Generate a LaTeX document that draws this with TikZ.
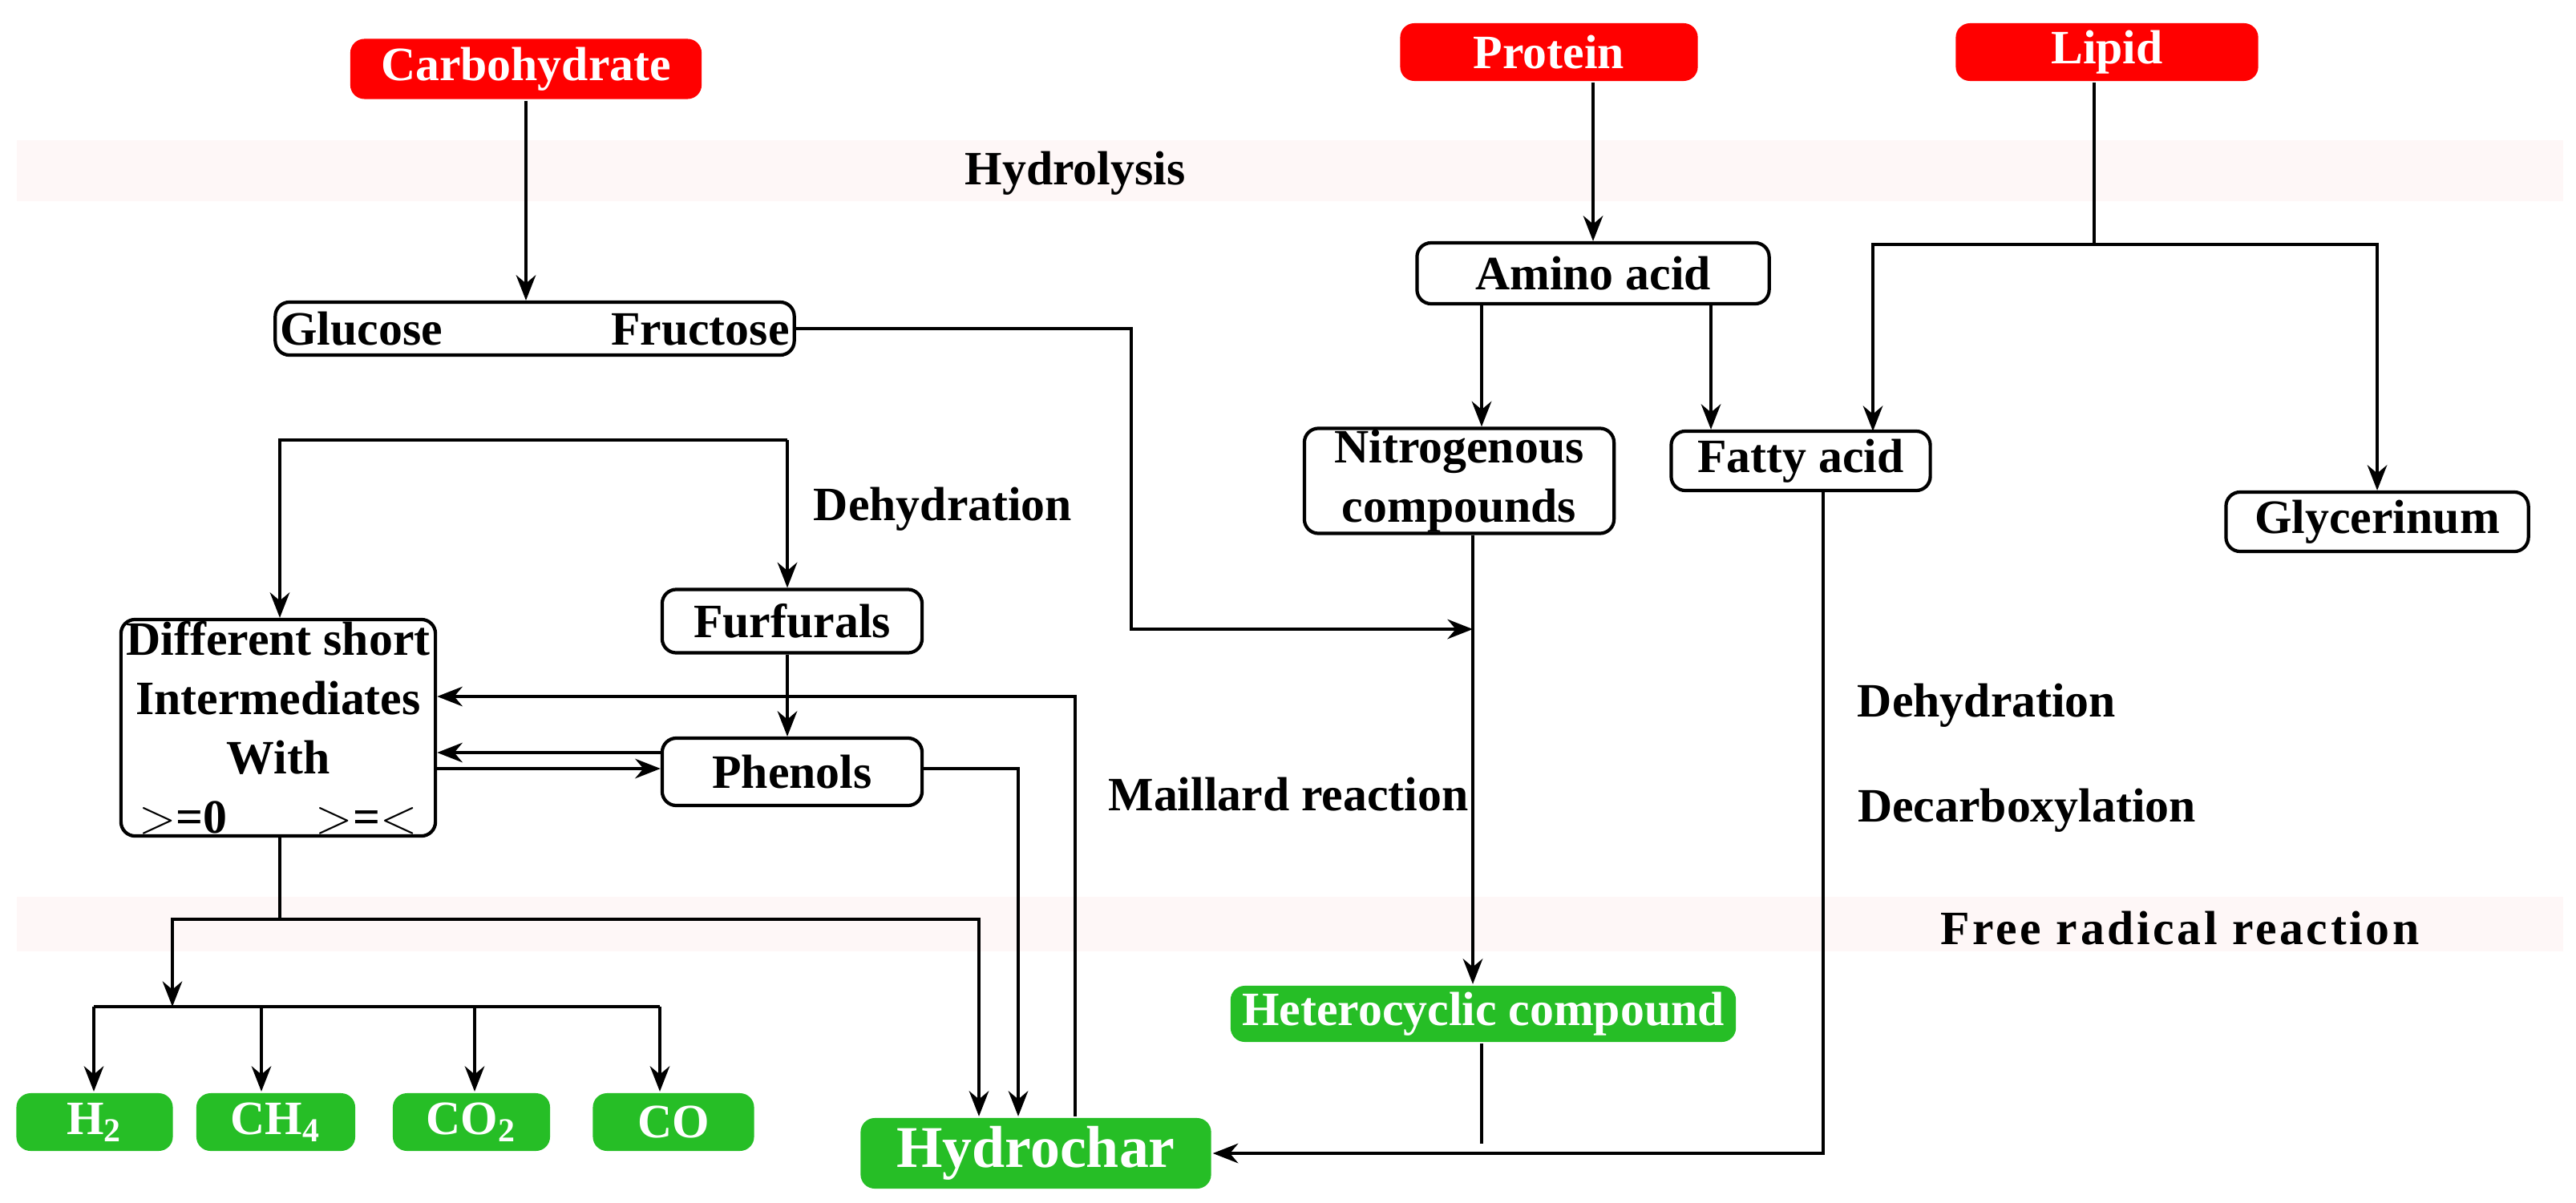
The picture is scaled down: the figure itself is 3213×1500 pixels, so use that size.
\documentclass[tikz,border=0pt]{standalone}
\usepackage{fontspec}
\setmainfont{Liberation Serif}
\usetikzlibrary{arrows.meta,positioning}

\begin{document}
\begin{tikzpicture}[x=0.01cm,y=-0.01cm,line width=1pt,
    font=\bfseries\fontsize{17}{21}\selectfont]
    \tikzstyle{arr}=[-{Stealth[length=9pt,width=7pt]}];
    \tikzstyle{box}=[draw,rounded corners=5pt,inner sep=0pt,line width=1.2pt];
    \tikzstyle{source}=[box,draw=none,fill=red,text=white];
    \tikzstyle{product}=[box,draw=none,fill=green!70!black!85!white,text=white];
    \tikzstyle{band}=[fill=black!10!red!3!white,draw=none];
    \useasboundingbox (0,0) rectangle (3213,1500);

    % Grey bands
    \fill[band] (21,175) rectangle (3197,251);
    \fill[band] (21,1119) rectangle (3197,1187);
    \node (hyd) at (1341,216) {Hydrolysis};
    \node (frr) at (2719,1158) {\addfontfeature{LetterSpace=6}Free radical reaction};

    % Feedstocks
    \node[source,minimum width=4.38cm,minimum height=0.75cm] (carb) at (656,86) {Carbohydrate};
    \node[source,minimum width=3.71cm,minimum height=0.72cm] (prot) at (1932,65) {Protein};
    \node[source,minimum width=3.77cm,minimum height=0.72cm] (lip) at (2628,65) {Lipid};

    % Intermediates
    \node[box,minimum width=6.47cm,minimum height=0.66cm] (glu) at (667,410) {Glucose\hspace{2.1cm}Fructose};
    \node[box,minimum width=4.39cm,minimum height=0.76cm] (amino) at (1987,341) {Amino acid};
    \node[box,minimum width=3.86cm,minimum height=1.31cm,align=center] (nitro) at (1820,600) {Nitrogenous\\compounds};
    \node[box,minimum width=3.23cm,minimum height=0.74cm] (fatty) at (2246,575) {Fatty acid};
    \node[box,minimum width=3.77cm,minimum height=0.74cm] (glyc) at (2965,651) {Glycerinum};
    \node[box,minimum width=3.24cm,minimum height=0.79cm] (furf) at (988,775) {Furfurals};
    \node[box,minimum width=3.24cm,minimum height=0.84cm] (phen) at (988,963) {Phenols};
    \node[box,minimum width=3.92cm,minimum height=2.70cm,align=center] (diff) at (347,908)
        {Different short\\Intermediates\\With\\$>$=0\hspace{1.1cm}$>$=$<$};

    % Reaction labels
    \node (dehyd1) at (1176,635) {Dehydration};
    \node (mail) at (1607,991) {Maillard reaction};
    \node (dehyd2) at (2478,880) {Dehydration};
    \node (decarb) at (2528,1011) {Decarboxylation};

    % Products
    \node[product,minimum width=6.3cm,minimum height=0.7cm] (het) at (1850,1265) {Heterocyclic compound};
    \node[product,minimum width=4.37cm,minimum height=0.88cm,font=\bfseries\fontsize{21}{24}\selectfont] (char) at (1292,1439) {Hydrochar};
    \node[product,minimum width=1.95cm,minimum height=0.72cm] (h2) at (118,1400) {H$_\mathbf{2}$};
    \node[product,minimum width=1.98cm,minimum height=0.72cm] (ch4) at (344,1400) {CH$_\mathbf{4}$};
    \node[product,minimum width=1.96cm,minimum height=0.72cm] (co2) at (588,1400) {CO$_\mathbf{2}$};
    \node[product,minimum width=2.01cm,minimum height=0.72cm] (co) at (840,1400) {CO};

    % Hydrolysis branches
    \draw[arr] (carb.south) -- (carb.south |- glu.north);
    \draw[arr] (prot.south -| amino.north) -- (amino.north);
    \coordinate (lipsplit) at (2612,305);
    \draw (lip.south -| lipsplit) -- (lipsplit);
    \draw[arr] (lipsplit) -| (2336,538);
    \draw[arr] (lipsplit) -| (glyc.north);
    \draw[arr] (1848,379) -- (nitro.north -| 1848,0);
    \draw[arr] (2134,379) -- (fatty.north -| 2134,0);

    % Maillard route
    \coordinate (mj) at (1837,785);
    \draw[arr] (glu.east) -| (1411,785) -- (mj);
    \draw[arr] (nitro.south -| mj) -- (het.north -| mj);
    \coordinate (cj) at (1848,1427);
    \draw (het.south -| cj) -- (cj);
    \draw[arr] (2274,612) |- (char.east);

    % Sugar degradation loop
    \draw[arr] (982,549) -- (furf.north -| 982,0);
    \draw[arr] (982,549) -| (diff.north -| 349,0);
    \draw[arr] (furf.south -| 982,0) -- (phen.north -| 982,0);
    \draw[arr] (phen.west |- 0,939) -- (diff.east |- 0,939);
    \draw[arr] (diff.east |- 0,959) -- (phen.west |- 0,959);
    \draw[arr] (char.north -| 1341,0) |- (diff.east |- 0,869);
    \draw[arr] (phen.east |- 0,959) -| (char.north -| 1270,0);

    % Gas products
    \coordinate (gj) at (349,1147);
    \draw (diff.south -| gj) -- (gj);
    \draw[arr] (gj) -| (char.north -| 1221,0);
    \draw[arr] (gj) -| (215,1256);
    \draw (117,1256) -- (823,1256);
    \foreach \gx/\gas in {117/h2,326/ch4,592/co2,823/co}
        \draw[arr] (\gx,1256) -- (\gas.north -| \gx,0);
\end{tikzpicture}
\end{document}
